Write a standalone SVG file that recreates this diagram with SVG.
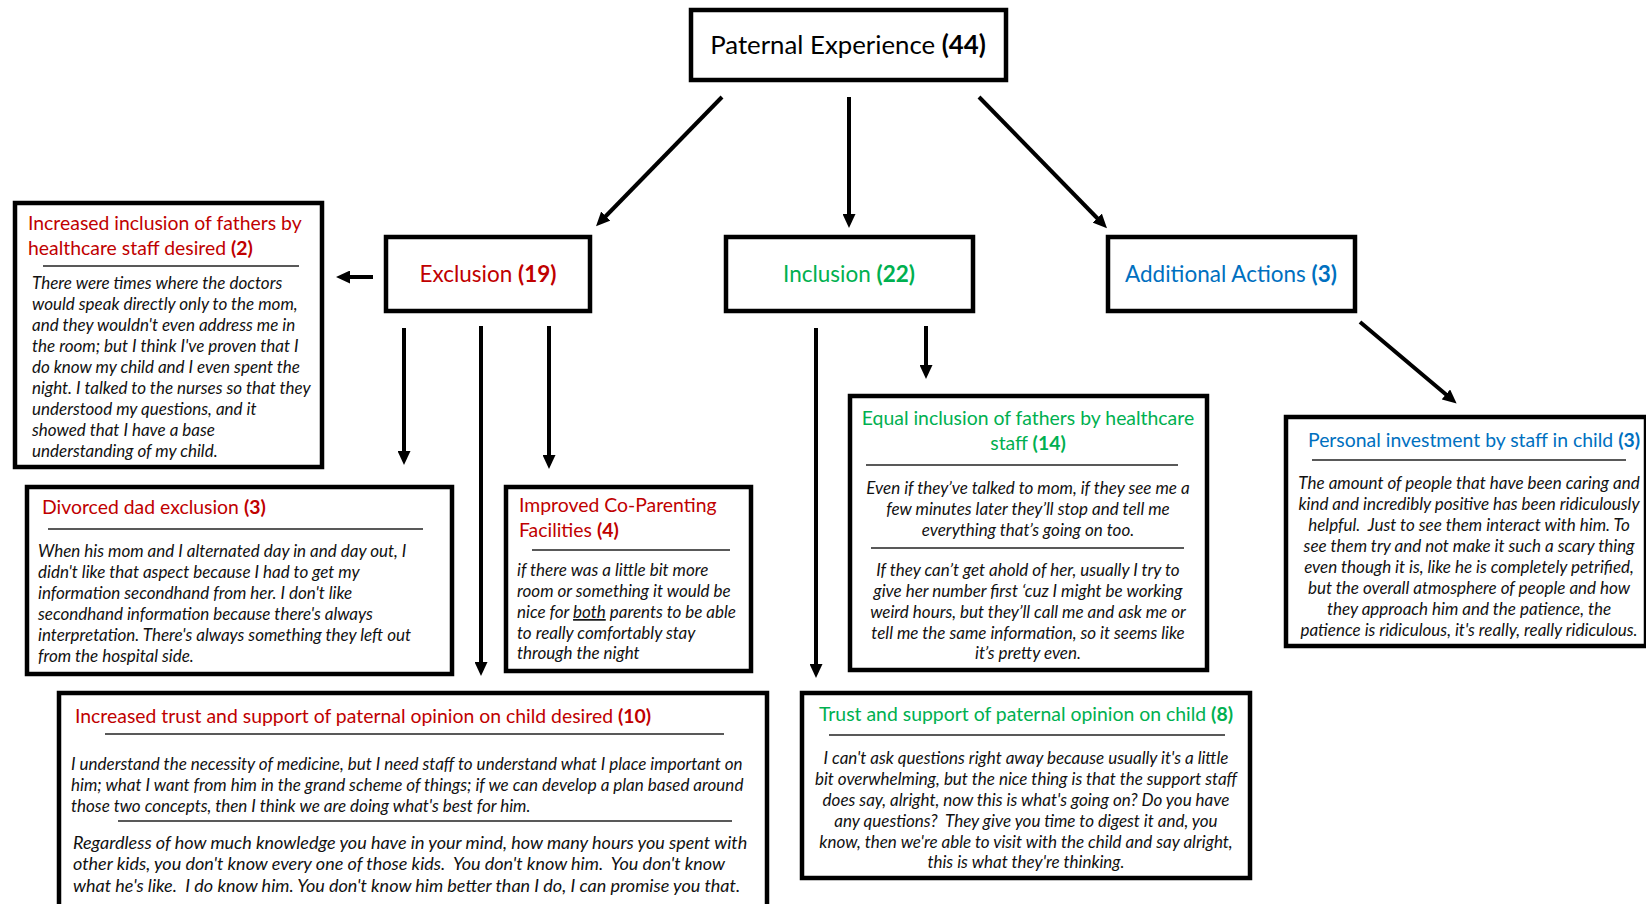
<svg xmlns="http://www.w3.org/2000/svg" width="1646" height="904" viewBox="0 0 1646 904">
<style>
.box{fill:#fff;stroke:#000;stroke-width:4.5}
.t{font-family:Lato,"Liberation Sans",sans-serif;fill:#000}
.l0{font-size:25.8px}
.l1{font-size:22.5px}
.h{font-size:19.4px}
.b{font-size:17px;font-style:italic;fill:#111}
.b2{font-size:18px;font-style:italic;fill:#111}
.red{fill:#C00000}.grn{fill:#00B050}.blu{fill:#0070C0}
.bd{font-weight:bold}
.sep{stroke:#222;stroke-width:1.5}
.c{text-anchor:middle}
.arr{stroke:#000;stroke-width:4;fill:none;marker-end:url(#ah)}
</style>
<defs>
<marker id="ah" markerUnits="userSpaceOnUse" viewBox="0 0 14 13" markerWidth="14" markerHeight="13" refX="4" refY="6.5" orient="auto">
<path d="M0,0 L14,6.5 L0,13 z" fill="#000"/>
</marker>
</defs>
<rect width="1646" height="904" fill="#fff"/>

<g id="connectors">
<line class="arr" x1="722" y1="97" x2="603" y2="219"/>
<line class="arr" x1="849" y1="97" x2="849" y2="218"/>
<line class="arr" x1="979" y1="97" x2="1100" y2="221"/>
<line class="arr" x1="373" y1="277" x2="346" y2="277"/>
<line class="arr" x1="404" y1="328" x2="404" y2="455"/>
<line class="arr" x1="481" y1="326" x2="481" y2="666"/>
<line class="arr" x1="549" y1="326" x2="549" y2="459"/>
<line class="arr" x1="816" y1="328" x2="816" y2="668"/>
<line class="arr" x1="926" y1="326" x2="926" y2="369"/>
<line class="arr" x1="1360" y1="322" x2="1449" y2="397"/>
</g>

<g id="paternal-experience">
<rect class="box" x="691" y="10" width="315" height="70"/>
<text class="t l0 c" x="848" y="54">Paternal Experience <tspan class="bd">(44)</tspan></text>
</g>

<g id="exclusion">
<rect class="box" x="386" y="237" width="204" height="74"/>
<text class="t l1 c red" x="488" y="282">Exclusion <tspan class="bd">(19)</tspan></text>
</g>

<g id="inclusion">
<rect class="box" x="726" y="237" width="247" height="74"/>
<text class="t l1 c grn" x="849" y="282">Inclusion <tspan class="bd">(22)</tspan></text>
</g>

<g id="additional-actions">
<rect class="box" x="1108" y="237" width="247" height="74"/>
<text class="t l1 c blu" x="1231" y="282">Additional Actions <tspan class="bd">(3)</tspan></text>
</g>

<g id="increased-inclusion">
<rect class="box" x="15" y="203" width="307" height="264"/>
<text class="t h red" x="28" y="230">Increased inclusion of fathers by</text>
<text class="t h red" x="28" y="255">healthcare staff desired <tspan class="bd">(2)</tspan></text>
<line class="sep" x1="43" y1="266" x2="299" y2="266"/>
<text class="t b" x="32" y="289">There were times where the doctors</text>
<text class="t b" x="32" y="310">would speak directly only to the mom,</text>
<text class="t b" x="32" y="331">and they wouldn't even address me in</text>
<text class="t b" x="32" y="352">the room; but I think I've proven that I</text>
<text class="t b" x="32" y="373">do know my child and I even spent the</text>
<text class="t b" x="32" y="394">night. I talked to the nurses so that they</text>
<text class="t b" x="32" y="415">understood my questions, and it</text>
<text class="t b" x="32" y="436">showed that I have a base</text>
<text class="t b" x="32" y="457">understanding of my child.</text>
</g>

<g id="divorced-dad">
<rect class="box" x="27" y="487" width="425" height="187"/>
<text class="t h red" x="42" y="514">Divorced dad exclusion <tspan class="bd">(3)</tspan></text>
<line class="sep" x1="48" y1="529" x2="423" y2="529"/>
<text class="t b" x="38" y="557">When his mom and I alternated day in and day out, I</text>
<text class="t b" x="38" y="578">didn't like that aspect because I had to get my</text>
<text class="t b" x="38" y="599">information secondhand from her. I don't like</text>
<text class="t b" x="38" y="620">secondhand information because there's always</text>
<text class="t b" x="38" y="641">interpretation. There's always something they left out</text>
<text class="t b" x="38" y="662">from the hospital side.</text>
</g>

<g id="co-parenting">
<rect class="box" x="506" y="487" width="245" height="184"/>
<text class="t h red" x="519" y="512">Improved Co-Parenting</text>
<text class="t h red" x="519" y="537">Facilities <tspan class="bd">(4)</tspan></text>
<line class="sep" x1="532" y1="550" x2="730" y2="550"/>
<text class="t b" x="517" y="576">if there was a little bit more</text>
<text class="t b" x="517" y="597">room or something it would be</text>
<text class="t b" x="517" y="618">nice for <tspan text-decoration="underline">both</tspan> parents to be able</text>
<text class="t b" x="517" y="639">to really comfortably stay</text>
<text class="t b" x="517" y="659">through the night</text>
</g>

<g id="increased-trust">
<rect class="box" x="59" y="693" width="708" height="220"/>
<text class="t h red" x="75" y="723">Increased trust and support of paternal opinion on child desired <tspan class="bd">(10)</tspan></text>
<line class="sep" x1="105" y1="734" x2="724" y2="734"/>
<text class="t b" x="71" y="770">I understand the necessity of medicine, but I need staff to understand what I place important on</text>
<text class="t b" x="71" y="791">him; what I want from him in the grand scheme of things; if we can develop a plan based around</text>
<text class="t b" x="71" y="812">those two concepts, then I think we are doing what's best for him.</text>
<line class="sep" x1="118" y1="821" x2="732" y2="821"/>
<text class="t b2" x="73" y="849" xml:space="preserve">Regardless of how much knowledge you have in your mind, how many hours you spent with</text>
<text class="t b2" x="73" y="870" xml:space="preserve">other kids, you don't know every one of those kids.  You don't know him.  You don't know</text>
<text class="t b2" x="73" y="892" xml:space="preserve">what he's like.  I do know him. You don't know him better than I do, I can promise you that.</text>
</g>

<g id="equal-inclusion">
<rect class="box" x="850" y="396" width="357" height="274"/>
<text class="t h grn c" x="1028" y="425">Equal inclusion of fathers by healthcare</text>
<text class="t h grn c" x="1028" y="450">staff <tspan class="bd">(14)</tspan></text>
<line class="sep" x1="866" y1="465" x2="1178" y2="465"/>
<text class="t b c" x="1028" y="494">Even if they’ve talked to mom, if they see me a</text>
<text class="t b c" x="1028" y="515">few minutes later they’ll stop and tell me</text>
<text class="t b c" x="1028" y="536">everything that’s going on too.</text>
<line class="sep" x1="871" y1="548" x2="1184" y2="548"/>
<text class="t b c" x="1028" y="576">If they can’t get ahold of her, usually I try to</text>
<text class="t b c" x="1028" y="597">give her number first ‘cuz I might be working</text>
<text class="t b c" x="1028" y="618">weird hours, but they’ll call me and ask me or</text>
<text class="t b c" x="1028" y="639">tell me the same information, so it seems like</text>
<text class="t b c" x="1028" y="659">it’s pretty even.</text>
</g>

<g id="trust-support">
<rect class="box" x="802" y="693" width="448" height="185"/>
<text class="t h grn c" x="1026" y="721">Trust and support of paternal opinion on child <tspan class="bd">(8)</tspan></text>
<line class="sep" x1="829" y1="735" x2="1225" y2="735"/>
<text class="t b c" x="1026" y="764">I can't ask questions right away because usually it's a little</text>
<text class="t b c" x="1026" y="785">bit overwhelming, but the nice thing is that the support staff</text>
<text class="t b c" x="1026" y="806">does say, alright, now this is what's going on? Do you have</text>
<text class="t b c" x="1026" y="827" xml:space="preserve">any questions?  They give you time to digest it and, you</text>
<text class="t b c" x="1026" y="848">know, then we're able to visit with the child and say alright,</text>
<text class="t b c" x="1026" y="868">this is what they're thinking.</text>
</g>

<g id="personal-investment">
<rect class="box" x="1286" y="417" width="360" height="229"/>
<text class="t h blu" x="1308" y="447">Personal investment by staff in child <tspan class="bd">(3)</tspan></text>
<line class="sep" x1="1312" y1="460" x2="1626" y2="460"/>
<text class="t b c" x="1469" y="489">The amount of people that have been caring and</text>
<text class="t b c" x="1469" y="510">kind and incredibly positive has been ridiculously</text>
<text class="t b c" x="1469" y="531" xml:space="preserve">helpful.  Just to see them interact with him. To</text>
<text class="t b c" x="1469" y="552">see them try and not make it such a scary thing</text>
<text class="t b c" x="1469" y="573">even though it is, like he is completely petrified,</text>
<text class="t b c" x="1469" y="594">but the overall atmosphere of people and how</text>
<text class="t b c" x="1469" y="615">they approach him and the patience, the</text>
<text class="t b c" x="1469" y="636">patience is ridiculous, it's really, really ridiculous.</text>
</g>
</svg>
